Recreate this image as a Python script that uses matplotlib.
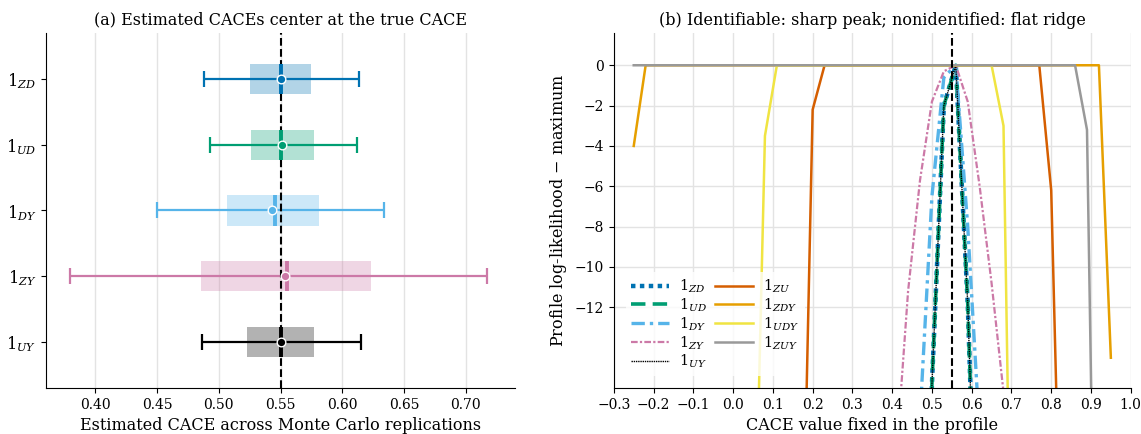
import numpy as np
import matplotlib
matplotlib.use("Agg")
import matplotlib.pyplot as plt

plt.rcParams["font.family"] = ["DejaVu Serif"]
plt.rcParams["mathtext.fontset"] = "dejavuserif"
plt.rcParams["axes.unicode_minus"] = True

TRUE_CACE = 0.55

# panel (a): summary of estimates over replications (top row first)
designs = ["ZD", "UD", "DY", "ZY", "UY"]
design_colors = ["#0072B2", "#009E73", "#56B4E9", "#CC79A7", "#000000"]
q1 = [0.5252, 0.5258, 0.5066, 0.4855, 0.5230]
q3 = [0.5745, 0.5772, 0.5815, 0.6232, 0.5772]
medians = [0.5500, 0.5500, 0.5453, 0.5555, 0.5500]
means = [0.5500, 0.5515, 0.5429, 0.5539, 0.5500]
whisk_lo = [0.4882, 0.4928, 0.4503, 0.3792, 0.4860]
whisk_hi = [0.6137, 0.6118, 0.6340, 0.7170, 0.6156]

# panel (b): profile log-likelihood knots per instrument set
prof_x_zd = [0.47, 0.50, 0.53, 0.56, 0.59, 0.62]
prof_y_zd = [-40.0, -15.8, -2.0, 0.0, -11.8, -30.0]
prof_x_ud = [0.47, 0.50, 0.53, 0.56, 0.59, 0.62]
prof_y_ud = [-40.0, -15.8, -2.0, 0.0, -11.8, -30.0]
prof_x_dy = [0.44, 0.47, 0.50, 0.53, 0.56, 0.59, 0.62, 0.65]
prof_y_dy = [-32.0, -17.5, -6.5, -0.6, 0.0, -8.0, -18.3, -32.0]
prof_x_zy = [0.38, 0.41, 0.44, 0.47, 0.50, 0.53, 0.56, 0.59, 0.62, 0.65, 0.68, 0.71]
prof_y_zy = [-28.0, -19.5, -11.2, -5.7, -1.8, -0.3, 0.0, -1.8, -6.0, -10.8, -16.2, -22.5]
prof_x_uy = [0.47, 0.50, 0.53, 0.56, 0.59, 0.62]
prof_y_uy = [-40.0, -15.8, -2.0, 0.0, -11.8, -30.0]
prof_x_zu = [0.14, 0.17, 0.20, 0.23, 0.77, 0.80, 0.83, 0.86]
prof_y_zu = [-55.0, -29.7, -2.2, 0.0, 0.0, -6.2, -29.7, -55.0]
prof_x_zdy = [-0.25, -0.22, 0.92, 0.95]
prof_y_zdy = [-4.0, 0.0, 0.0, -14.5]
prof_x_udy = [0.02, 0.05, 0.08, 0.11, 0.65, 0.68, 0.71, 0.74]
prof_y_udy = [-55.0, -28.5, -3.5, 0.0, 0.0, -3.0, -40.0, -70.0]
prof_x_zuy = [-0.25, 0.86, 0.89, 0.92, 0.95]
prof_y_zuy = [0.0, 0.0, -3.2, -40.0, -70.0]

profiles = [
    ("ZD", prof_x_zd, prof_y_zd, "#0072B2", dict(ls=(0, (1, 1)), lw=3.2)),
    ("UD", prof_x_ud, prof_y_ud, "#009E73", dict(ls=(0, (4, 2)), lw=2.6)),
    ("DY", prof_x_dy, prof_y_dy, "#56B4E9", dict(ls=(0, (4, 1.5, 1, 1.5)), lw=2.4)),
    ("ZY", prof_x_zy, prof_y_zy, "#CC79A7", dict(ls=(0, (3, 1, 1, 1)), lw=1.6)),
    ("UY", prof_x_uy, prof_y_uy, "#000000", dict(ls=(0, (1, 0.6)), lw=1.0)),
    ("ZU", prof_x_zu, prof_y_zu, "#D55E00", dict(ls="-", lw=1.8)),
    ("ZDY", prof_x_zdy, prof_y_zdy, "#E69F00", dict(ls="-", lw=1.8)),
    ("UDY", prof_x_udy, prof_y_udy, "#F0E442", dict(ls="-", lw=1.8)),
    ("ZUY", prof_x_zuy, prof_y_zuy, "#999999", dict(ls="-", lw=1.8)),
]

fig = plt.figure(figsize=(11.41, 4.34), dpi=100)
ax1 = fig.add_axes([0.0403, 0.106, 0.4111, 0.818])
ax2 = fig.add_axes([0.538, 0.106, 0.453, 0.818])

# ---- panel (a)
ypos = np.arange(len(designs))[::-1]
for i, d in enumerate(designs):
    c = design_colors[i]
    y = ypos[i]
    ax1.barh(y, q3[i] - q1[i], left=q1[i], height=0.46, color=c, alpha=0.3,
             linewidth=0, zorder=2)
    ax1.errorbar(means[i], y,
                 xerr=[[means[i] - whisk_lo[i]], [whisk_hi[i] - means[i]]],
                 fmt="none", ecolor=c, elinewidth=1.6, capsize=6, capthick=1.6,
                 zorder=3)
    ax1.plot([medians[i], medians[i]], [y - 0.23, y + 0.23], color=c, lw=2.8,
             solid_capstyle="butt", zorder=5)
    ax1.plot(means[i], y, "o", color=c, mec="white", mew=1.0, ms=6.2, zorder=6)

ax1.axvline(TRUE_CACE, color="black", ls="--", lw=1.5, zorder=4)
ax1.set_yticks(ypos)
ax1.set_yticklabels([f"$1_{{{d}}}$" for d in designs], fontsize=11.5)
ax1.set_xlim(0.36, 0.74)
ax1.set_ylim(-0.7, 4.7)
ax1.set_xticks([0.40, 0.45, 0.50, 0.55, 0.60, 0.65, 0.70])
ax1.set_xticklabels([f"{v:.2f}" for v in [0.40, 0.45, 0.50, 0.55, 0.60, 0.65, 0.70]])
ax1.tick_params(axis="x", labelsize=10)
ax1.grid(axis="x", color="#e3e3e3", lw=1)
ax1.set_axisbelow(True)
ax1.set_xlabel("Estimated CACE across Monte Carlo replications", fontsize=11.5)
ax1.set_title("(a) Estimated CACEs center at the true CACE", fontsize=11.5)
for s in ["top", "right"]:
    ax1.spines[s].set_visible(False)

# ---- panel (b)
for name, xs, ys, c, sty in profiles:
    ax2.plot(xs, ys, color=c, label=f"$1_{{{name}}}$", **sty)
ax2.axvline(TRUE_CACE, color="black", ls="--", lw=1.5)
ax2.set_xlim(-0.3, 1.0)
ax2.set_ylim(-16, 1.6)
ax2.set_xticks(np.round(np.arange(-0.3, 1.01, 0.1), 1))
ax2.set_yticks([0, -2, -4, -6, -8, -10, -12])
ax2.tick_params(labelsize=10)
ax2.grid(color="#e3e3e3", lw=1)
ax2.set_axisbelow(True)
ax2.set_xlabel("CACE value fixed in the profile", fontsize=11.5)
ax2.set_ylabel("Profile log-likelihood $-$ maximum", fontsize=11.5)
ax2.set_title("(b) Identifiable: sharp peak; nonidentified: flat ridge", fontsize=11.5)
for s in ["top", "right"]:
    ax2.spines[s].set_visible(False)
ax2.legend(loc="lower left", ncol=2, fontsize=10.5, frameon=True, edgecolor="none",
           framealpha=0.8, handlelength=2.6, columnspacing=0.5,
           labelspacing=0.1, borderaxespad=0.8, handletextpad=0.7)

fig.savefig("out.png", dpi=100)
